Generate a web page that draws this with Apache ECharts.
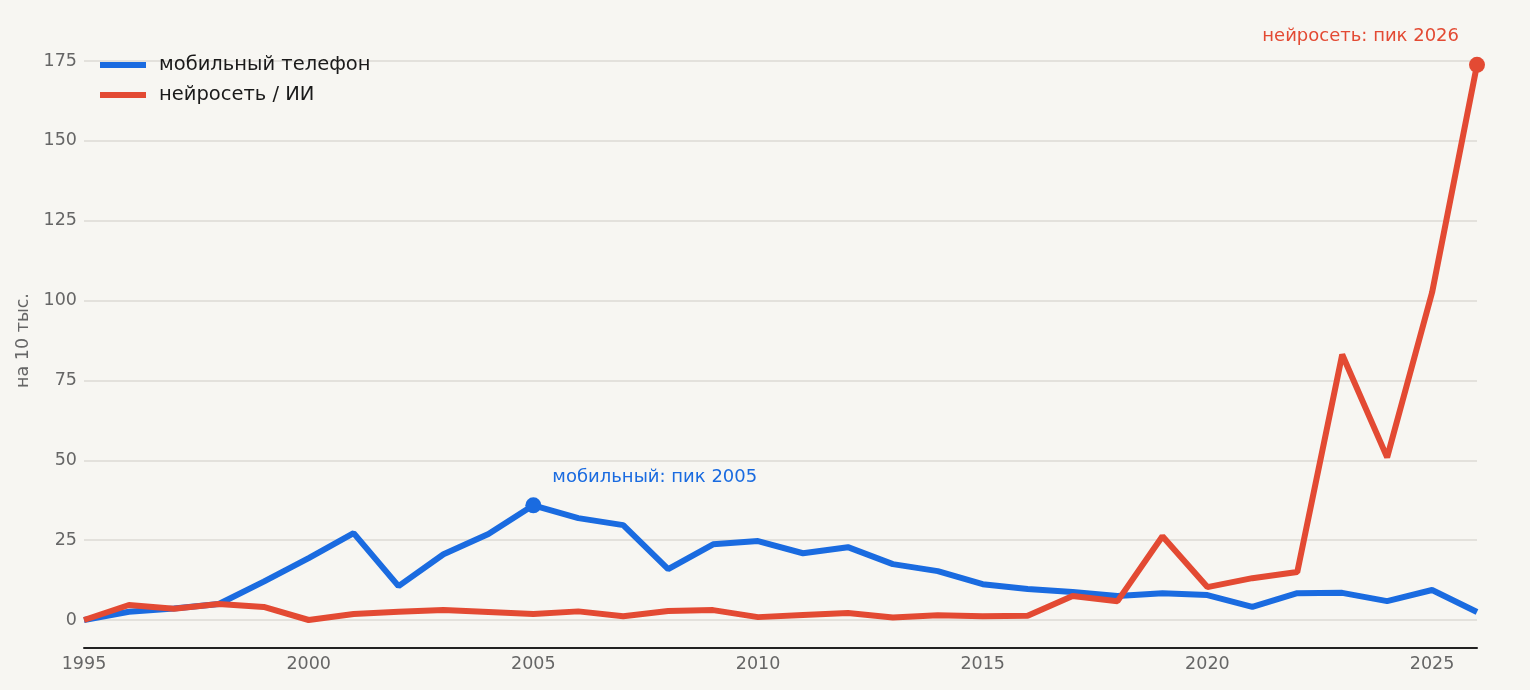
<!DOCTYPE html>
<html>
<head>
<meta charset="utf-8">
<script src="https://cdn.jsdelivr.net/npm/echarts@6/dist/echarts.min.js"></script>
<style>
  html, body { margin: 0; padding: 0; background: #f7f6f2; }
  #chart { width: 1530px; height: 690px; }
</style>
</head>
<body>
<div id="chart"></div>
<script>
var years = [1995, 1996, 1997, 1998, 1999, 2000, 2001, 2002, 2003, 2004, 2005, 2006, 2007, 2008, 2009, 2010,
  2011, 2012, 2013, 2014, 2015, 2016, 2017, 2018, 2019, 2020, 2021, 2022, 2023, 2024, 2025, 2026];
var mobile = [0, 2.6, 3.6, 5, 12, 19.4, 27.2, 10.6, 20.6, 26.9, 35.9, 31.9, 29.7, 15.9, 23.7, 24.7,
  20.9, 22.8, 17.5, 15.3, 11.2, 9.7, 8.8, 7.5, 8.4, 7.8, 4.1, 8.4, 8.5, 5.9, 9.4, 2.5];
var neural = [0, 4.7, 3.5, 5, 4.1, 0, 1.9, 2.6, 3.1, 2.5, 1.9, 2.7, 1.2, 2.8, 3.1, 0.9,
  1.6, 2.2, 0.8, 1.5, 1.2, 1.3, 7.5, 5.9, 26.2, 10.3, 13.1, 15, 83.1, 50.9, 102.5, 173.8];
var seriesNames = ['мобильный телефон', 'нейросеть / ИИ'];
var peakLabels = ['мобильный: пик 2005', 'нейросеть: пик 2026'];
var yTicks = [0, 25, 50, 75, 100, 125, 150, 175];

var blue = '#1a6be0', red = '#e34a33';
var font = 'DejaVu Sans';

function pairs(vals) {
  return years.map(function (y, i) { return [y, vals[i]]; });
}

var chart = echarts.init(document.getElementById('chart'));
chart.setOption({
  backgroundColor: '#f7f6f2',
  textStyle: { fontFamily: font },
  animation: false,
  grid: { left: 84, right: 53, top: 61, bottom: 70 },
  legend: {
    orient: 'vertical',
    left: 95,
    top: 50,
    itemWidth: 46,
    itemHeight: 6,
    itemGap: 10,
    icon: 'rect',
    textStyle: { fontSize: 19.5, color: '#1a1a1a', fontFamily: font, padding: [0, 0, 0, 8] },
    data: seriesNames
  },
  xAxis: {
    type: 'value',
    min: years[0],
    max: years[years.length - 1],
    interval: 5,
    offset: 28,
    axisLine: { show: true, onZero: false, lineStyle: { color: '#222', width: 2 } },
    axisTick: { show: false },
    splitLine: { show: false },
    axisLabel: {
      color: '#666', fontSize: 17.5, margin: 7, showMaxLabel: false,
      formatter: function (v) { return String(v); }
    }
  },
  yAxis: {
    type: 'value',
    min: yTicks[0],
    max: yTicks[yTicks.length - 1],
    interval: 25,
    name: 'на 10 тыс.',
    nameLocation: 'middle',
    nameGap: 50,
    nameTextStyle: { color: '#666', fontSize: 17.5 },
    axisLine: { show: false },
    axisTick: { show: false },
    splitLine: { lineStyle: { color: '#dcdad5', width: 1.5 } },
    axisLabel: { color: '#666', fontSize: 17.5, margin: 7 }
  },
  series: [{
    name: seriesNames[0],
    type: 'line',
    data: pairs(mobile),
    showSymbol: false,
    lineStyle: { color: blue, width: 6 },
    itemStyle: { color: blue },
    z: 2,
    markPoint: {
      symbol: 'circle',
      symbolSize: 16,
      data: [{ type: 'max' }],
      itemStyle: { color: blue },
      label: {
        show: true,
        formatter: peakLabels[0],
        position: 'right',
        offset: [6, -28],
        color: blue,
        fontSize: 18
      }
    }
  }, {
    name: seriesNames[1],
    type: 'line',
    data: pairs(neural),
    showSymbol: false,
    lineStyle: { color: red, width: 6 },
    itemStyle: { color: red },
    z: 3,
    markPoint: {
      symbol: 'circle',
      symbolSize: 16,
      data: [{ type: 'max' }],
      itemStyle: { color: red },
      label: {
        show: true,
        formatter: peakLabels[1],
        position: 'left',
        offset: [-5, -29],
        color: red,
        fontSize: 18
      }
    }
  }]
});
</script>
</body>
</html>
